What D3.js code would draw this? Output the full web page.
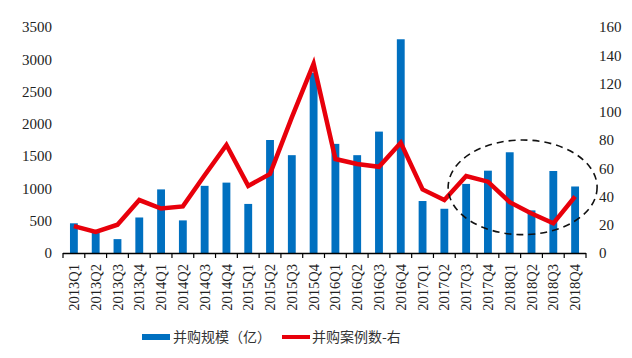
<!DOCTYPE html>
<html><head><meta charset="utf-8">
<script src="https://cdn.jsdelivr.net/npm/d3@7"></script>
<style>body{margin:0;background:#fff}svg{display:block}.sf{font-family:"Liberation Serif","DejaVu Serif","Times New Roman",serif}</style>
</head><body>
<script>
const quarters = ["2013Q1","2013Q2","2013Q3","2013Q4","2014Q1","2014Q2","2014Q3","2014Q4","2015Q1","2015Q2","2015Q3","2015Q4","2016Q1","2016Q2","2016Q3","2016Q4","2017Q1","2017Q2","2017Q3","2017Q4","2018Q1","2018Q2","2018Q3","2018Q4"];
const scaleValues = [460,310,215,550,985,505,1040,1090,760,1750,1515,2790,1690,1515,1880,3310,805,685,1070,1275,1560,660,1270,1030];
const caseCounts = [19,15,20,37.5,31.5,33,55,76.5,47.5,56,96,134,66.5,63,61,78,45,37.5,54.5,50.5,36,28,21,40];
const leftTicks = [0,500,1000,1500,2000,2500,3000,3500];
const rightTicks = [0,20,40,60,80,100,120,140,160];
const legendLabels = ["并购规模（亿）","并购案例数-右"];

const W=632,H=358;
const svg=d3.select("body").append("svg").attr("width",W).attr("height",H);
const x=d3.scaleBand().domain(quarters).range([63,586]).paddingInner(0.64).paddingOuter(0.32);
const yL=d3.scaleLinear().domain([0,3500]).range([253,27]);
const yR=d3.scaleLinear().domain([0,160]).range([253,27]);

// left axis labels
svg.append("g").selectAll("text").data(leftTicks).join("text").attr("class","sf")
  .attr("x",52).attr("y",d=>yL(d)).attr("dy","0.35em").attr("text-anchor","end")
  .attr("font-size",15).attr("fill","#222").text(d=>d);
// right axis labels
svg.append("g").selectAll("text").data(rightTicks).join("text").attr("class","sf")
  .attr("x",599).attr("y",d=>yR(d)).attr("dy","0.35em").attr("text-anchor","start")
  .attr("font-size",15).attr("fill","#222").text(d=>d);

// bars
svg.append("g").selectAll("rect").data(quarters).join("rect")
  .attr("x",d=>x(d)).attr("width",x.bandwidth())
  .attr("y",(d,i)=>yL(scaleValues[i])).attr("height",(d,i)=>yL(0)-yL(scaleValues[i]))
  .attr("fill","#0070c0");

// x axis line + ticks
const step=x.step(), x0=x.range()[0];
svg.append("line").attr("x1",x0).attr("x2",x.range()[1]).attr("y1",253.5).attr("y2",253.5).attr("stroke","#000").attr("stroke-width",1.5);
svg.append("g").selectAll("line").data(d3.range(quarters.length+1)).join("line")
  .attr("x1",i=>x0+i*step).attr("x2",i=>x0+i*step).attr("y1",253).attr("y2",258)
  .attr("stroke","#000").attr("stroke-width",1.2);
// x labels
svg.append("g").selectAll("text").data(quarters).join("text").attr("class","sf")
  .attr("transform",d=>`translate(${x(d)+x.bandwidth()/2},264) rotate(-90)`)
  .attr("dy","0.35em").attr("text-anchor","end")
  .attr("font-size",14.5).attr("fill","#222").text(d=>d);

// line
const line=d3.line().x((d,i)=>x(quarters[i])+x.bandwidth()/2).y(d=>yR(d));
svg.append("path").datum(caseCounts).attr("d",line).attr("fill","none")
  .attr("stroke","#e8000b").attr("stroke-width",4.5).attr("stroke-linejoin","miter");

// dashed ellipse annotation around 2017Q3-2018Q4
const cx=(x("2017Q3")+x("2018Q4")+x.bandwidth())/2;
svg.append("ellipse").attr("cx",cx+2).attr("cy",(yR(80)+yR(13))/2)
  .attr("rx",(x("2018Q4")-x("2017Q3"))/2+20).attr("ry",(yR(13)-yR(80))/2)
  .attr("fill","none").attr("stroke","#111").attr("stroke-width",1.6).attr("stroke-dasharray","7,5");

// legend
const lg=svg.append("g");
lg.append("rect").attr("x",142).attr("y",334).attr("width",28).attr("height",6).attr("fill","#0070c0");
lg.append("text").attr("x",173).attr("y",337).attr("dy","0.35em").attr("font-family","'Noto Sans CJK SC',sans-serif").attr("font-size",14).attr("fill","#333").text(legendLabels[0]);
lg.append("line").attr("x1",282).attr("x2",310).attr("y1",337).attr("y2",337).attr("stroke","#e8000b").attr("stroke-width",4);
lg.append("text").attr("x",312).attr("y",337).attr("dy","0.35em").attr("font-family","'Noto Sans CJK SC',sans-serif").attr("font-size",14).attr("fill","#333").text(legendLabels[1]);
</script>
</body></html>
